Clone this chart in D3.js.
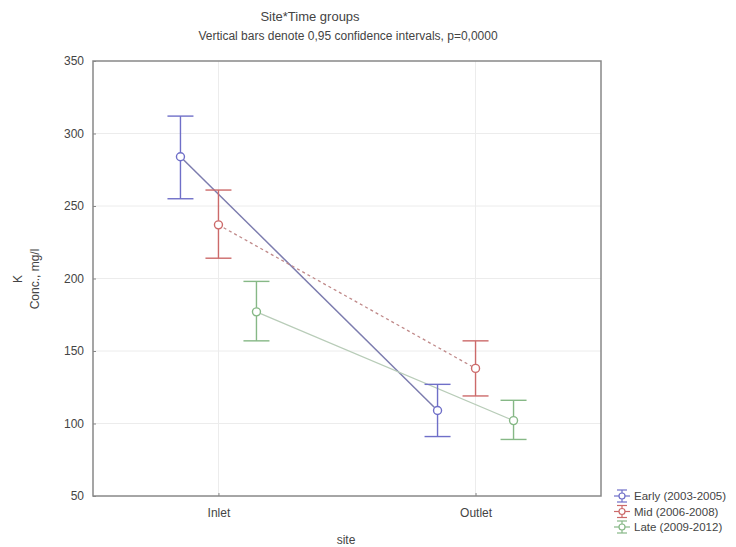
<!DOCTYPE html>
<html><head><meta charset="utf-8">
<script src="https://cdn.jsdelivr.net/npm/d3@7"></script>
<style>body{margin:0;background:#fff}svg{display:block}text{font-family:"Liberation Sans",Arial,sans-serif;fill:#444}</style>
</head><body><svg id="c" width="736" height="547"></svg>
<script>
const sites = ["Inlet", "Outlet"];
const series = ["Early (2003-2005)", "Mid (2006-2008)", "Late (2009-2012)"];
const means = [[284, 109], [237, 138], [177, 102]];
const lower = [[255, 91], [214, 119], [157, 89]];
const upper = [[312, 127], [261, 157], [198, 116]];
const yTicks = [50, 100, 150, 200, 250, 300, 350];
const colors = ["#6f6fc8", "#cc6a6a", "#86b886"];
const lineColors = ["#7c7cae", "#c08a8a", "#b8ccb8"];

const svg = d3.select("#c");
const L = 93, R = 601, T = 61, B = 496;
const x = d3.scalePoint().domain(sites).range([L, R]).padding(0.488);
const off = d3.scalePoint().domain(series).range([-38, 38]);
const y = d3.scaleLinear().domain([50, 350]).range([B, T]);

// grid
svg.append("g").selectAll("line").data(yTicks.slice(1, -1)).join("line")
  .attr("x1", L).attr("x2", R).attr("y1", d => y(d)).attr("y2", d => y(d))
  .attr("stroke", "#ececec").attr("stroke-width", 1);
svg.append("g").selectAll("line").data(sites).join("line")
  .attr("x1", d => x(d)).attr("x2", d => x(d)).attr("y1", T).attr("y2", B)
  .attr("stroke", "#ececec").attr("stroke-width", 1);

// axes
const ya = svg.append("g").attr("transform", `translate(${L},0)`)
  .call(d3.axisLeft(y).tickValues(yTicks).tickSize(-3).tickPadding(9));
const xa = svg.append("g").attr("transform", `translate(0,${B})`)
  .call(d3.axisBottom(x).tickSize(-3).tickPadding(12));
[ya, xa].forEach(a => {
  a.select(".domain").remove();
  a.selectAll(".tick line").attr("stroke", "#888");
  a.selectAll("text").style("font-size", "12px").attr("fill", "#444");
});
svg.append("rect").attr("x", L).attr("y", T).attr("width", R - L).attr("height", B - T)
  .attr("fill", "none").attr("stroke", "#888").attr("stroke-width", 1.5);

// lines
series.forEach((s, i) => {
  const pts = sites.map((st, j) => [x(st) + off(s), y(means[i][j])]);
  svg.append("path").attr("d", d3.line()(pts)).attr("fill", "none")
    .attr("stroke", lineColors[i]).attr("stroke-width", i === 0 ? 1.5 : 1.3)
    .attr("stroke-dasharray", i === 1 ? "3,3" : null);
});

// error bars
series.forEach((s, i) => {
  sites.forEach((st, j) => {
    const cx = x(st) + off(s);
    const g = svg.append("g").attr("stroke", colors[i]).attr("stroke-width", 1.4).attr("fill", "none");
    g.append("line").attr("x1", cx).attr("x2", cx).attr("y1", y(upper[i][j])).attr("y2", y(lower[i][j]));
    g.append("line").attr("x1", cx - 13).attr("x2", cx + 13).attr("y1", y(upper[i][j])).attr("y2", y(upper[i][j]));
    g.append("line").attr("x1", cx - 13).attr("x2", cx + 13).attr("y1", y(lower[i][j])).attr("y2", y(lower[i][j]));
    g.append("circle").attr("cx", cx).attr("cy", y(means[i][j])).attr("r", 4).attr("fill", "#fff");
  });
});

// titles
svg.append("text").attr("x", 310).attr("y", 21).attr("text-anchor", "middle").style("font-size", "13px").text("Site*Time groups");
svg.append("text").attr("x", 348).attr("y", 40).attr("text-anchor", "middle").style("font-size", "12px")
  .text("Vertical bars denote 0,95 confidence intervals, p=0,0000");
svg.append("text").attr("x", 346).attr("y", 544).attr("text-anchor", "middle").style("font-size", "12px").text("site");
svg.append("text").attr("transform", "translate(22,279) rotate(-90)").attr("text-anchor", "middle").style("font-size", "12px").text("K");
svg.append("text").attr("transform", "translate(39,279) rotate(-90)").attr("text-anchor", "middle").style("font-size", "12px").text("Conc., mg/l");

// legend
const lg = svg.append("g");
series.forEach((s, i) => {
  const ly = 496 + i * 15.5;
  const g = lg.append("g").attr("stroke", colors[i]).attr("stroke-width", 1.2).attr("fill", "none");
  g.append("line").attr("x1", 614).attr("x2", 630).attr("y1", ly).attr("y2", ly);
  g.append("line").attr("x1", 622).attr("x2", 622).attr("y1", ly - 6).attr("y2", ly + 6);
  g.append("line").attr("x1", 617).attr("x2", 627).attr("y1", ly - 6).attr("y2", ly - 6);
  g.append("line").attr("x1", 617).attr("x2", 627).attr("y1", ly + 6).attr("y2", ly + 6);
  g.append("circle").attr("cx", 622).attr("cy", ly).attr("r", 3).attr("fill", "#fff");
  lg.append("text").attr("x", 634).attr("y", ly + 4).style("font-size", "11.5px").text(s);
});
</script></body></html>
